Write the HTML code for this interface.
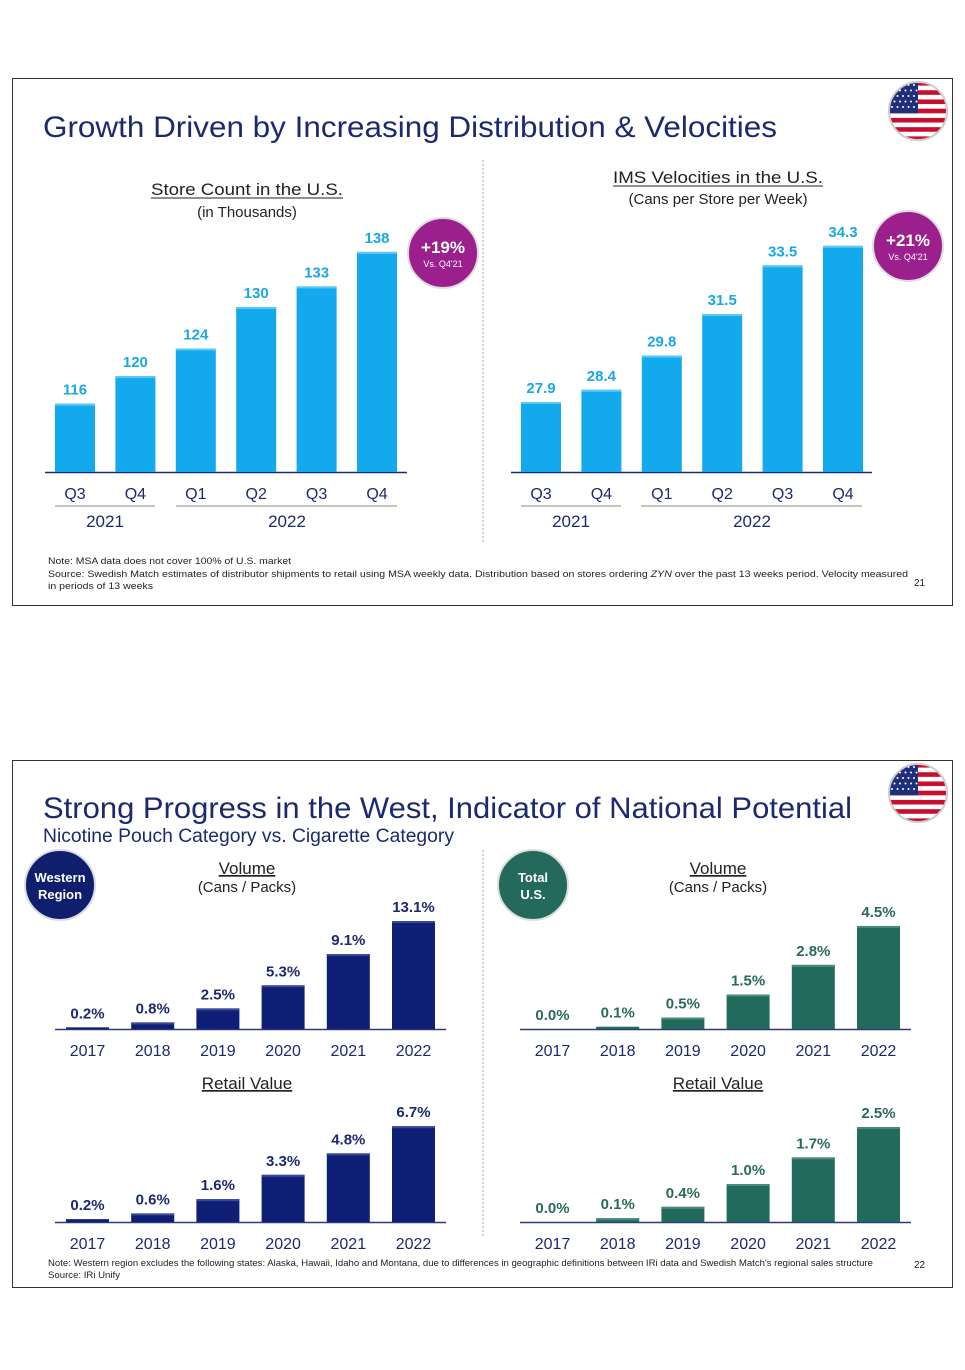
<!DOCTYPE html>
<html><head><meta charset="utf-8">
<style>
html,body{margin:0;padding:0;background:#fff;}
body{width:965px;height:1365px;overflow:hidden;font-family:"Liberation Sans",sans-serif;}
svg text{font-family:"Liberation Sans",sans-serif;}
</style></head>
<body>
<svg id="s" width="965" height="1365" viewBox="0 0 965 1365" xmlns="http://www.w3.org/2000/svg">
<defs>
<clipPath id="fc1"><circle cx="918" cy="111" r="29"/></clipPath>
<clipPath id="fc2"><circle cx="918" cy="793" r="29"/></clipPath>
</defs>
<!-- slide 1 -->
<rect x="12.5" y="78.5" width="940" height="527" fill="#fff" stroke="#333" stroke-width="1"/>
<text x="43" y="137" font-size="30" fill="#1b2a6e" textLength="734" lengthAdjust="spacingAndGlyphs">Growth Driven by Increasing Distribution &amp; Velocities</text>
<line x1="483" y1="160" x2="483" y2="542" stroke="#aaa" stroke-dasharray="2,2"/>
<text x="247" y="195" font-size="17" fill="#222" text-anchor="middle" textLength="192" lengthAdjust="spacingAndGlyphs">Store Count in the U.S.</text>
<line x1="151" y1="198" x2="343" y2="198" stroke="#222" stroke-width="1"/>
<text x="247" y="217" font-size="15" fill="#222" text-anchor="middle">(in Thousands)</text>
<text x="718" y="183" font-size="17" fill="#222" text-anchor="middle" textLength="210" lengthAdjust="spacingAndGlyphs">IMS Velocities in the U.S.</text>
<line x1="613" y1="186" x2="823" y2="186" stroke="#222" stroke-width="1"/>
<text x="718" y="204" font-size="15" fill="#222" text-anchor="middle">(Cans per Store per Week)</text>
<g>
<circle cx="443" cy="253" r="35" fill="#9b1f8d" stroke="#ddd" stroke-width="2"/>
<text x="443" y="253" font-size="17" font-weight="bold" fill="#fff" text-anchor="middle">+19%</text>
<text x="443" y="267" font-size="9" fill="#fff" text-anchor="middle">Vs. Q4'21</text>
</g>
<g>
<circle cx="908" cy="246" r="35" fill="#9b1f8d" stroke="#ddd" stroke-width="2"/>
<text x="908" y="246" font-size="17" font-weight="bold" fill="#fff" text-anchor="middle">+21%</text>
<text x="908" y="260" font-size="9" fill="#fff" text-anchor="middle">Vs. Q4'21</text>
</g>
<g id="c1"></g>
<g id="c2"></g>
<text x="48" y="564" font-size="9.5" fill="#222" textLength="243" lengthAdjust="spacingAndGlyphs">Note: MSA data does not cover 100% of U.S. market</text>
<text x="48" y="577" font-size="9.5" fill="#222" textLength="860" lengthAdjust="spacingAndGlyphs">Source: Swedish Match estimates of distributor shipments to retail using MSA weekly data. Distribution based on stores ordering <tspan font-style="italic">ZYN</tspan> over the past 13 weeks period. Velocity measured</text>
<text x="48" y="589" font-size="9.5" fill="#222" textLength="105" lengthAdjust="spacingAndGlyphs">in periods of 13 weeks</text>
<text x="914" y="586" font-size="10" fill="#222">21</text>
<!-- slide 2 -->
<rect x="12.5" y="760.5" width="940" height="527" fill="#fff" stroke="#333" stroke-width="1"/>
<text x="43" y="818" font-size="30" fill="#1b2a6e" textLength="809" lengthAdjust="spacingAndGlyphs">Strong Progress in the West, Indicator of National Potential</text>
<text x="43" y="842" font-size="19" fill="#1b2a6e" textLength="411" lengthAdjust="spacingAndGlyphs">Nicotine Pouch Category vs. Cigarette Category</text>
<line x1="483" y1="850" x2="483" y2="1238" stroke="#aaa" stroke-dasharray="2,2"/>
<g>
<circle cx="60" cy="885" r="35" fill="#0f1f6e" stroke="#ddd" stroke-width="2"/>
<text x="60" y="882" font-size="13" font-weight="bold" fill="#fff" text-anchor="middle">Western</text>
<text x="60" y="899" font-size="13" font-weight="bold" fill="#fff" text-anchor="middle">Region</text>
</g>
<g>
<circle cx="533" cy="885" r="35" fill="#236a5d" stroke="#ddd" stroke-width="2"/>
<text x="533" y="882" font-size="13" font-weight="bold" fill="#fff" text-anchor="middle">Total</text>
<text x="533" y="899" font-size="13" font-weight="bold" fill="#fff" text-anchor="middle">U.S.</text>
</g>
<g id="c3"></g>
<g id="c4"></g>
<g id="c5"></g>
<g id="c6"></g>
<text x="48" y="1266" font-size="9.5" fill="#222" textLength="825" lengthAdjust="spacingAndGlyphs">Note: Western region excludes the following states: Alaska, Hawaii, Idaho and Montana, due to differences in geographic definitions between IRi data and Swedish Match's regional sales structure</text>
<text x="48" y="1278" font-size="9.5" fill="#222" textLength="72" lengthAdjust="spacingAndGlyphs">Source: IRi Unify</text>
<text x="914" y="1268" font-size="10" fill="#222">22</text>
<!-- flags -->
<g id="f1" clip-path="url(#fc1)"></g>
<g id="f2" clip-path="url(#fc2)"></g>
<circle cx="918" cy="111" r="29" fill="none" stroke="#ccc" stroke-width="2"/>
<circle cx="918" cy="793" r="29" fill="none" stroke="#ccc" stroke-width="2"/>
</svg>
<script>
const storeCats = ["Q3","Q4","Q1","Q2","Q3","Q4"];
const storeVals = [116,120,124,130,133,138];
const storeLabels = ["116","120","124","130","133","138"];
const velCats = ["Q3","Q4","Q1","Q2","Q3","Q4"];
const velVals = [27.9,28.4,29.8,31.5,33.5,34.3];
const velLabels = ["27.9","28.4","29.8","31.5","33.5","34.3"];
const yearCats = ["2017","2018","2019","2020","2021","2022"];
const westVolVals = [0.2,0.8,2.5,5.3,9.1,13.1];
const westVolLabels = ["0.2%","0.8%","2.5%","5.3%","9.1%","13.1%"];
const westRetVals = [0.2,0.6,1.6,3.3,4.8,6.7];
const westRetLabels = ["0.2%","0.6%","1.6%","3.3%","4.8%","6.7%"];
const totVolVals = [0.0,0.1,0.5,1.5,2.8,4.5];
const totVolLabels = ["0.0%","0.1%","0.5%","1.5%","2.8%","4.5%"];
const totRetVals = [0.0,0.1,0.4,1.0,1.7,2.5];
const totRetLabels = ["0.0%","0.1%","0.4%","1.0%","1.7%","2.5%"];

const NS="http://www.w3.org/2000/svg";
function mk(tag,attrs,parent){const e=document.createElementNS(NS,tag);for(const k in attrs)e.setAttribute(k,attrs[k]);parent.appendChild(e);return e;}

function chart(id,o,cats,vals,labels){
  const g=document.getElementById(id);
  const y=v=>o.base-(v-o.vmin)*o.scale;
  const x=i=>o.x0+i*o.step;
  mk('line',{x1:o.ax0,x2:o.ax1,y1:o.base+0.5,y2:o.base+0.5,stroke:o.axisColor,'stroke-width':1.5},g);
  cats.forEach((c,i)=>{
    const top=y(vals[i]);
    const h=Math.max(o.base-top,0);
    const r=mk('rect',{x:x(i),y:top,width:o.bw,height:h,fill:o.color},g);
    
    
    if(h>3){mk('rect',{x:x(i),y:top,width:o.bw,height:2,fill:o.hi},g);}
    const t=mk('text',{x:x(i)+o.bw/2,y:top-9,'font-size':o.lfs,'font-weight':'bold',fill:o.lcolor,'text-anchor':'middle'},g);
    t.textContent=labels[i];
    
    
    const c2=mk('text',{x:x(i)+o.bw/2,y:o.base+27,'font-size':o.cfs,fill:o.ccolor,'text-anchor':'middle'},g);
    c2.textContent=c;
    
    
  });
}
const q={bw:40,step:60.4,lfs:15,cfs:16,lcolor:"#19a7e6",ccolor:"#1b2a6e",color:"#12aaed",hi:"#5cc8f5",axisColor:"#1b2a6e"};
chart('c1',Object.assign({},q,{x0:55,ax0:45,ax1:407,base:472,vmin:106.1,scale:6.9}),storeCats,storeVals,storeLabels);
chart('c2',Object.assign({},q,{x0:521,ax0:511,ax1:872,base:472,vmin:25.03,scale:24.4}),velCats,velVals,velLabels);

const w={bw:43,step:65.2,lfs:15,cfs:16,ccolor:"#1b2a6e",axisColor:"#2a3a7e",vmin:0};
const navy=Object.assign({},w,{color:"#0f1f75",hi:"#3a4a9a",lcolor:"#1b2a6e",x0:66,ax0:55,ax1:446});
const teal=Object.assign({},w,{color:"#226a5c",hi:"#4a8a7e",lcolor:"#2a6a5c",x0:531,ax0:520,ax1:911});
chart('c3',Object.assign({},navy,{base:1029,scale:8.24}),yearCats,westVolVals,westVolLabels);
chart('c4',Object.assign({},navy,{base:1222,scale:14.3}),yearCats,westRetVals,westRetLabels);
chart('c5',Object.assign({},teal,{base:1029,scale:22.9}),yearCats,totVolVals,totVolLabels);
chart('c6',Object.assign({},teal,{base:1222,scale:38}),yearCats,totRetVals,totRetLabels);

const s=document.getElementById('s');
[[55,155,105,"2021"],[176,397,287,"2022"],[521,621,571,"2021"],[641,862,752,"2022"]].forEach(a=>{
  mk('line',{x1:a[0],x2:a[1],y1:506,y2:506,stroke:"#888",'stroke-width':1},s);
  const t=mk('text',{x:a[2],y:527,'font-size':17,fill:"#1b2a6e",'text-anchor':'middle'},s);
  t.textContent=a[3];
  
  
});
[[247,874,"Volume"],[718,874,"Volume"],[247,1089,"Retail Value"],[718,1089,"Retail Value"]].forEach(a=>{
  const t=mk('text',{x:a[0],y:a[1],'font-size':17,fill:"#222",'text-anchor':'middle','text-decoration':'underline'},s);
  t.textContent=a[2];
  
  
});
[[247,892],[718,892]].forEach(a=>{
  const t=mk('text',{x:a[0],y:a[1],'font-size':15,fill:"#222",'text-anchor':'middle'},s);
  t.textContent="(Cans / Packs)";
  
  
});
function flag(id,cy){
  const g=document.getElementById(id);
  const top=cy-30;
  for(let i=0;i<13;i++){mk('rect',{x:888,y:top+i*60/13,width:60,height:60/13+0.3,fill:i%2?"#fff":"#c8102e"},g);}
  mk('rect',{x:888,y:top,width:30,height:60*7/13,fill:"#1f2f7a"},g);
  for(let r=0;r<5;r++)for(let c=0;c<5;c++)mk('circle',{cx:892+c*5.5+(r%2)*2.5,cy:top+4+r*5.5,r:1,fill:"#fff"},g);
}
flag('f1',111);flag('f2',793);
</script>
</body></html>
